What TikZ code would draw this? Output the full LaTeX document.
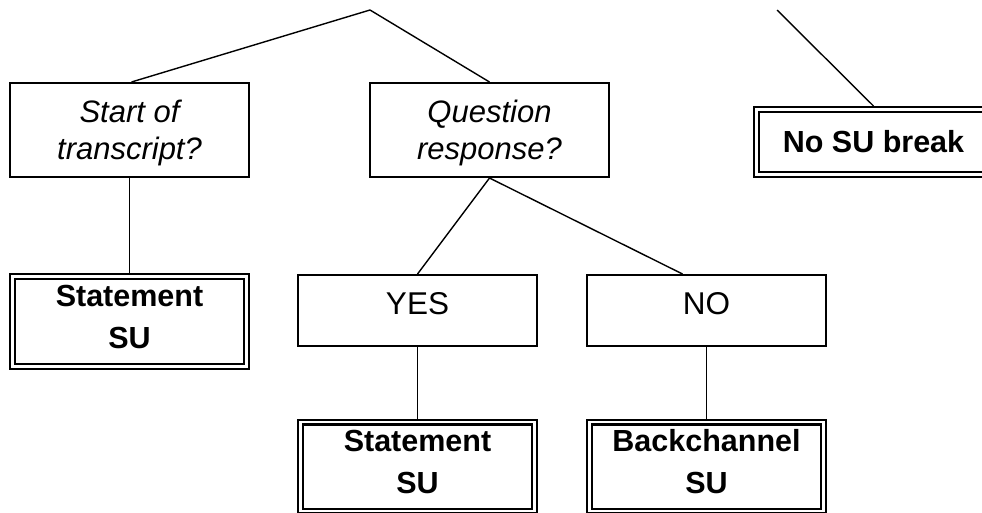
\documentclass[tikz,border=0pt]{standalone}
\usepackage{fontspec}
\setmainfont{Liberation Sans}
\begin{document}
\begin{tikzpicture}[x=1pt,y=-1pt,
  conn/.style={line width=1.4pt},
  qbox/.style={draw, line width=1.8pt, inner sep=0pt, outer sep=0.9pt, align=center,
    minimum width=239.2pt, minimum height=94.2pt, text height=66pt, text depth=6.5pt,
    font=\fontsize{31}{37}\selectfont\itshape},
  abox/.style={draw, line width=1.8pt, inner sep=0pt, outer sep=0.9pt, align=center,
    minimum width=239.2pt, minimum height=71.2pt, text height=22pt, text depth=14pt,
    font=\fontsize{31.5}{37}\selectfont},
  dbox/.style={draw, double, line width=2.2pt, double distance=2.6pt, inner sep=0pt,
    outer sep=3.5pt, align=center, minimum width=234pt,
    font=\fontsize{30.5}{41.5}\selectfont\bfseries},
  dbox2/.style={dbox, text height=69pt, text depth=16pt}
]
\useasboundingbox (0,0) rectangle (982,512);
\begin{scope}
\clip (0,0) rectangle (982,512);
\coordinate (apex) at (370,10);
\coordinate (apex2) at (777,10);

\node[qbox] (start) at (129.5,130) {Start of\\transcript?};
\node[qbox] (quest) at (489.5,130) {Question\\response?};
\node[abox] (yes) at (417.5,310.5) {YES};
\node[abox] (no) at (706.5,310.5) {NO};
\node[dbox2, minimum height=90pt] (stmt1) at (129.5,321.5) {Statement\\SU};
\node[dbox2, minimum height=89pt] (stmt2) at (417.5,466.5) {Statement\\SU};
\node[dbox2, minimum height=89pt] (back) at (706.5,466.5) {Backchannel\\SU};
\node[dbox, minimum height=65pt] (nosu) at (873.5,142) {No SU break};

\coordinate (nohit) at ([xshift=-24pt]no.north);

\draw[conn] (apex) -- ([xshift=2pt]start.north);
\draw[conn] (apex) -- (quest.north);
\draw[conn] (start.south) -- (stmt1.north);
\draw[conn] (quest.south) -- (yes.north);
\draw[conn] (quest.south) -- (nohit);
\draw[conn] (yes.south) -- (stmt2.north);
\draw[conn] (no.south) -- (back.north);
\draw[conn] (apex2) -- (nosu.north);
\end{scope}
\end{tikzpicture}
\end{document}
